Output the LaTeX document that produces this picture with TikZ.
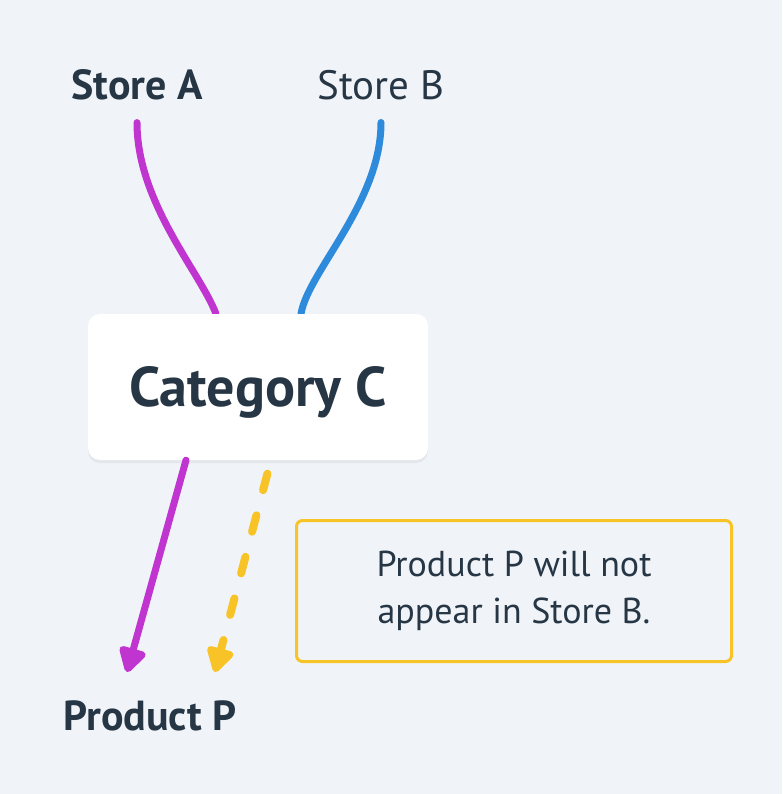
\documentclass[tikz,border=0pt]{standalone}
\usepackage{fontspec}
\setmainfont{PT Sans}
\usetikzlibrary{arrows.meta, positioning, backgrounds, shadows}
\definecolor{bgcol}{HTML}{F0F4F8}
\definecolor{ink}{HTML}{263645}
\definecolor{purp}{HTML}{C035D0}
\definecolor{bluel}{HTML}{2E8ADB}
\definecolor{yell}{HTML}{F8C326}
\tikzstyle{storename} = [text=ink, inner sep=0pt, outer ysep=22pt, anchor=base, font=\fontsize{41}{41}\selectfont]
\tikzstyle{storebold} = [storename, font=\fontsize{42}{42}\selectfont\bfseries]
\tikzstyle{category} = [rectangle, rounded corners=12pt, fill=white, minimum width=340pt, minimum height=146pt, text depth=0pt, text=ink, font=\fontsize{56}{56}\selectfont\bfseries, drop shadow={shadow xshift=0pt, shadow yshift=-3pt, opacity=0.05, fill=black}]
\tikzstyle{note} = [rectangle, rounded corners=6pt, draw=yell, line width=3pt, minimum width=435pt, minimum height=141pt, align=center, text=ink, font=\fontsize{36}{47}\selectfont]
\tikzstyle{link} = [line width=7pt, line cap=round]
\tikzstyle{arrow} = [link, -{Triangle[length=28pt, width=30pt, line join=round]}]

\begin{document}
\begin{tikzpicture}[x=1pt, y=-1pt]
\useasboundingbox (0,0) rectangle (782,794);

\node (storeA) [storebold] at (137,100) {Store A};
\node (storeB) [storename] at (381,100) {Store B};
\node (cat) [category] at (258,387) {Category C};
\node (prodP) [storebold] at (150,730) {Product P};
\node (note) [note] at (514,591) {Product P will not\\appear in Store B.};

\coordinate (tipA) at (127,672);
\coordinate (tipB) at (215,672);

\begin{scope}[on background layer]
\fill [bgcol] (0,0) rectangle (782,794);
\draw [link, draw=purp] (storeA.south) .. controls +(0,80) and +(-16,-42) .. ([xshift=-42pt]cat.north);
\draw [link, draw=bluel] (storeB.south) .. controls +(0,80) and +(7,-42) .. ([xshift=43pt]cat.north);
\end{scope}

\draw [arrow, draw=purp] ([xshift=-72pt]cat.south) -- (tipA);
\draw [arrow, draw=yell, line width=8pt, dash pattern=on 17pt off 26pt, shorten <=14pt] ([xshift=13pt]cat.south) -- (tipB);

\end{tikzpicture}
\end{document}
